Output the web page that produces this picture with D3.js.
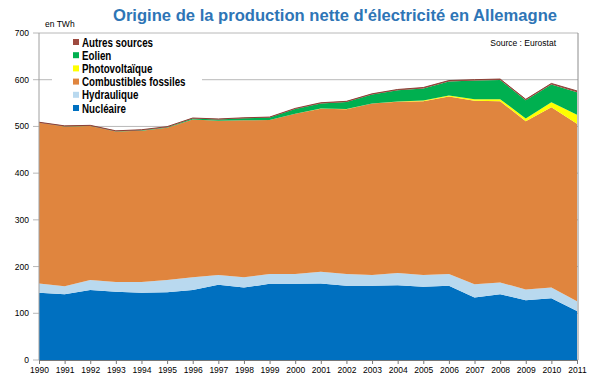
<!DOCTYPE html>
<html>
<head>
<meta charset="utf-8">
<script src="https://cdn.jsdelivr.net/npm/d3@7"></script>
<style>
  body { margin: 0; background: #fff; }
  svg { display: block; }
</style>
</head>
<body>
<svg></svg>
<script>
// Years (x-axis tick labels)
const years = [1990,1991,1992,1993,1994,1995,1996,1997,1998,1999,2000,2001,2002,2003,2004,2005,2006,2007,2008,2009,2010,2011];

// Net production in TWh
const nucleaire = [144,141,150,146,144,145,150,161,155,163,163,164,159,159,160,157,159,134,141,128,132,105];
const hydraulique = [20,17,21,21,23,26,27,21,22,21,21,25,25,23,26,25,25,28,25,23,23,21];
const fossiles = [344,342,330,322,324,326,338,330,336,330,343,349,353,367,367,372,380,393,388,360,386,380];
const photovoltaique = [0,0,0,0,0,0,0,0,0,0,0.1,0.2,0.2,0.3,0.6,1.3,2.2,3.1,4.4,6,11,19];
const eolien = [0,0.2,0.3,0.6,0.9,1.5,2,3,4.5,5,10,11,15,19,24,26,30,40,41,39,38,48];
const autres = [1,1,1,1,1,1,1,1,1,1,1.5,1.5,1.5,1.5,1.5,2,2,2,2,2,2,3];

const yTicks = [0,100,200,300,400,500,600,700];

// series from bottom to top
const keys = ['Nucléaire','Hydraulique','Combustibles fossiles','Photovoltaïque','Eolien','Autres sources'];
const colors = ['#0070c0','#b9d9ef','#e0853e','#ffff00','#00b050','#9e4a3f'];
const seriesValues = [nucleaire, hydraulique, fossiles, photovoltaique, eolien, autres];

const table = years.map((y, i) => {
  const row = { year: y };
  keys.forEach((k, j) => { row[k] = seriesValues[j][i]; });
  return row;
});

const width = 600;
const height = 382;

const svg = d3.select('svg')
  .attr('width', width)
  .attr('height', height)
  .style('font-family', '"Liberation Sans", Arial, sans-serif');

const x = d3.scaleLinear().domain([1990, 2011]).range([39, 577]);
const y = d3.scaleLinear().domain([0, 700]).range([360, 33]);

// gridlines
svg.append('g')
  .selectAll('line')
  .data(yTicks)
  .enter()
  .append('line')
  .attr('x1', 33)
  .attr('x2', 578)
  .attr('y1', d => y(d))
  .attr('y2', d => y(d))
  .attr('stroke', '#b8b8b8')
  .attr('stroke-width', 1);

// stacked areas
const stack = d3.stack().keys(keys);
const layers = stack(table);

const area = d3.area()
  .x(d => x(d.data.year))
  .y0(d => y(d[0]))
  .y1(d => y(d[1]));

svg.append('g')
  .selectAll('path')
  .data(layers)
  .enter()
  .append('path')
  .attr('d', area)
  .attr('fill', (d, i) => colors[i]);

// thin outline on top of the last layer
svg.append('path')
  .datum(layers[layers.length - 1])
  .attr('fill', 'none')
  .attr('stroke', '#8a3f35')
  .attr('stroke-width', 1)
  .attr('d', d3.line().x(d => x(d.data.year)).y(d => y(d[1])));

// frame: left, right
svg.append('line')
  .attr('x1', 39).attr('x2', 39).attr('y1', 33).attr('y2', 360)
  .attr('stroke', '#a0a0a0');
svg.append('line')
  .attr('x1', 578).attr('x2', 578).attr('y1', 33).attr('y2', 360)
  .attr('stroke', '#8c8c8c');

// x axis
const xAxis = d3.axisBottom(x)
  .tickValues(years)
  .tickFormat(d3.format('d'))
  .tickSize(4)
  .tickPadding(3);

const gx = svg.append('g')
  .attr('transform', `translate(0,${y(0)})`)
  .call(xAxis);
gx.select('.domain').attr('stroke', '#777');
gx.selectAll('.tick line').attr('stroke', '#777');
gx.selectAll('text')
  .attr('font-size', 8.5)
  .attr('fill', '#000')
  .attr('font-family', '"Liberation Sans", Arial, sans-serif');

// y tick labels
svg.append('g')
  .selectAll('text')
  .data(yTicks)
  .enter()
  .append('text')
  .attr('x', 29)
  .attr('y', d => y(d))
  .attr('dy', '0.35em')
  .attr('text-anchor', 'end')
  .attr('font-size', 8.5)
  .text(d => d);

// unit
svg.append('text')
  .attr('x', 45)
  .attr('y', 27)
  .attr('font-size', 8.5)
  .text('en TWh');

// title
svg.append('text')
  .attr('x', 113)
  .attr('y', 21)
  .attr('font-size', 17)
  .attr('font-weight', 'bold')
  .attr('fill', '#2e75b6')
  .attr('textLength', 444)
  .attr('lengthAdjust', 'spacingAndGlyphs')
  .text("Origine de la production nette d'électricité en Allemagne");

// source
svg.append('text')
  .attr('x', 556)
  .attr('y', 46)
  .attr('text-anchor', 'end')
  .attr('font-size', 8.5)
  .text('Source : Eurostat');

// legend (top series first)
const legend = svg.append('g');
legend.append('rect')
  .attr('x', 52).attr('y', 34)
  .attr('width', 150).attr('height', 81)
  .attr('fill', '#fff');

const legendItems = keys.map((k, i) => ({ key: k, color: colors[i] })).reverse();

const li = legend.selectAll('g.item')
  .data(legendItems)
  .enter()
  .append('g')
  .attr('class', 'item')
  .attr('transform', (d, i) => `translate(73,${42 + i * 13.2})`);

li.append('rect')
  .attr('x', 0).attr('y', -3)
  .attr('width', 6).attr('height', 6)
  .attr('fill', d => d.color);

const legendText = li.append('text')
  .attr('x', 9)
  .attr('dy', '0.36em')
  .attr('font-size', 12.5)
  .attr('font-weight', 'bold')
  .text(d => d.key);

// squeeze the legend labels to match the narrow original font
legendText.each(function () {
  const w = this.getComputedTextLength();
  d3.select(this)
    .attr('textLength', w * 0.78)
    .attr('lengthAdjust', 'spacingAndGlyphs');
});
</script>
</body>
</html>
